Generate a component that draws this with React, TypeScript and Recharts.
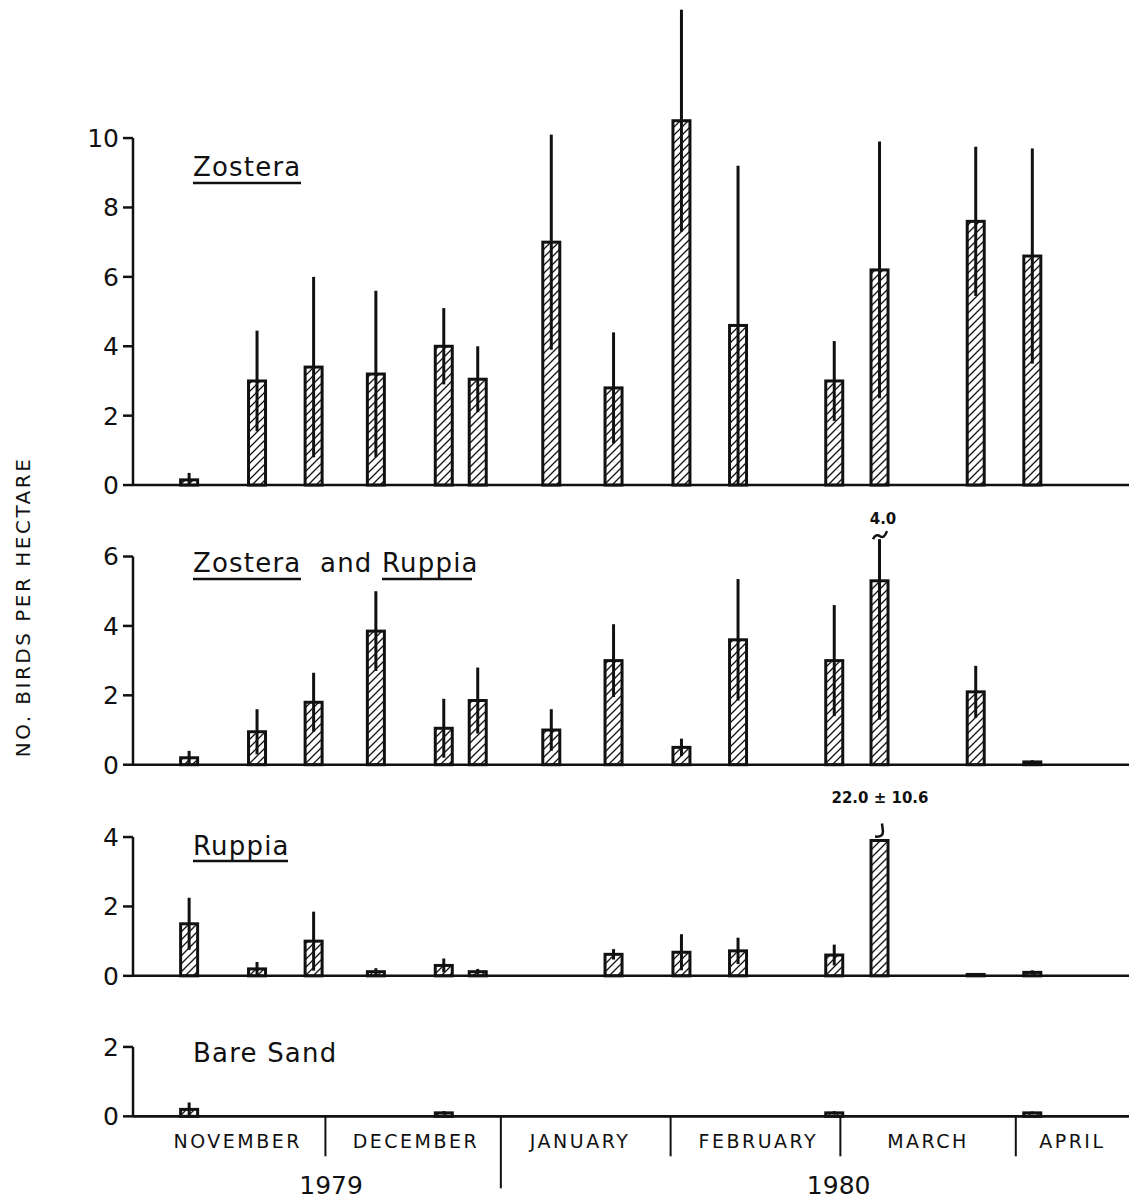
import React from 'react';
import { BarChart, Bar, XAxis, YAxis, ErrorBar, ReferenceLine, ReferenceDot } from 'recharts';

const FONT = '"DejaVu Sans", Verdana, sans-serif';
const INK = '#111';
const UNIT = 34.7; // px per bird/ha, same in every panel
const WIDTH = 1129;
const AXIS_W = 133;
const PAD = 16; // room above/below the plot so edge tick labels are not cut
const X_DOMAIN: [number, number] = [-4, 172];

// sampling dates, as days counted from 1 November 1979
const sampleDays = [6, 18, 28, 39, 51, 57, 70, 81, 93, 103, 120, 128, 145, 155];

const zosteraMean = [0.15, 3.0, 3.4, 3.2, 4.0, 3.05, 7.0, 2.8, 10.5, 4.6, 3.0, 6.2, 7.6, 6.6];
const zosteraSE = [0.2, 1.45, 2.6, 2.4, 1.1, 0.95, 3.1, 1.6, 3.2, 4.6, 1.15, 3.7, 2.15, 3.1];

const mixedMean = [0.2, 0.95, 1.8, 3.85, 1.05, 1.85, 1.0, 3.0, 0.5, 3.6, 3.0, 5.3, 2.1, 0.08];
const mixedSE = [0.2, 0.65, 0.85, 1.15, 0.85, 0.95, 0.6, 1.05, 0.25, 1.75, 1.6, 4.0, 0.75, 0.05];

const ruppiaMean = [1.5, 0.2, 1.0, 0.12, 0.3, 0.12, 0, 0.62, 0.68, 0.72, 0.6, 22.0, 0.04, 0.1];
const ruppiaSE = [0.75, 0.2, 0.85, 0.1, 0.2, 0.08, 0, 0.15, 0.52, 0.38, 0.3, 10.6, 0, 0.06];

const sandMean = [0.2, 0, 0, 0, 0.1, 0, 0, 0, 0, 0, 0.1, 0, 0, 0.1];
const sandSE = [0.2, 0, 0, 0, 0.05, 0, 0, 0, 0, 0, 0.05, 0, 0, 0.04];

const monthBoundaries = [30, 61, 91, 121, 152];
const monthNames = ['NOVEMBER', 'DECEMBER', 'JANUARY', 'FEBRUARY', 'MARCH', 'APRIL'];
const monthLabelDays = [14.5, 46, 75, 106.5, 136.5, 162];
const yearNames = ['1979', '1980'];
const yearLabelDays = [31, 120.7];
const yearBoundary = 61;

const BREAK_IDX = 11;

const HatchBar = (props: any) => {
  const { x, y, width, height } = props;
  if (!height || height <= 0.3) return null;
  return (
    <rect x={x} y={y} width={width} height={height} fill="url(#hatch)" stroke={INK} strokeWidth={3} />
  );
};

const MixedBreak = (props: any) => {
  const { cx, cy } = props;
  return (
    <g>
      <path d={`M${cx - 7},${cy} q3,-6 7,-3 t7,-5`} fill="none" stroke={INK} strokeWidth={2.5} />
      <text x={cx + 3} y={cy - 15} textAnchor="middle" fontFamily={FONT} fontSize={15} fontWeight="bold" fill={INK}>
        {mixedSE[BREAK_IDX].toFixed(1)}
      </text>
    </g>
  );
};

const RuppiaBreak = (props: any) => {
  const { cx, cy } = props;
  return (
    <g>
      <path
        d={`M${cx + 2},${cy - 17} L${cx + 3},${cy - 9} Q${cx + 3},${cy - 3} ${cx - 5},${cy - 4}`}
        fill="none"
        stroke={INK}
        strokeWidth={2.5}
      />
      <text x={cx} y={cy - 38} textAnchor="middle" fontFamily={FONT} fontSize={15} fontWeight="bold" fill={INK}>
        {`${ruppiaMean[BREAK_IDX].toFixed(1)} ± ${ruppiaSE[BREAK_IDX].toFixed(1)}`}
      </text>
    </g>
  );
};

const TimeTick = (props: any) => {
  const { x, y, payload } = props;
  const v = payload.value;
  if (monthBoundaries.includes(v)) {
    const len = v === yearBoundary ? 72 : 40;
    return <line x1={x} y1={y} x2={x} y2={y + len} stroke={INK} strokeWidth={2} />;
  }
  const m = monthLabelDays.indexOf(v);
  if (m >= 0) {
    return (
      <text x={x} y={y + 32} textAnchor="middle" fontFamily={FONT} fontSize={19} letterSpacing={2.5} fill={INK}>
        {monthNames[m]}
      </text>
    );
  }
  const yr = yearLabelDays.indexOf(v);
  if (yr >= 0) {
    return (
      <text x={x} y={y + 78} textAnchor="middle" fontFamily={FONT} fontSize={25} fill={INK}>
        {yearNames[yr]}
      </text>
    );
  }
  return null;
};

type PanelProps = {
  mean: number[];
  se: number[];
  yTicks: number[];
  yMax: number;
  baseline: number;
  barCap?: number;
  errCap?: number;
  bottomAxis?: boolean;
  children?: React.ReactNode;
};

function Panel({ mean, se, yTicks, yMax, baseline, barCap = Infinity, errCap = Infinity, bottomAxis = false, children }: PanelProps) {
  const plotH = yMax * UNIT;
  const axisH = bottomAxis ? 88 : 0;
  const bottomPad = bottomAxis ? 0 : PAD;
  const rows = sampleDays.map((day, i) => {
    const broken = mean[i] > barCap;
    const low = broken ? 0 : Math.min(se[i], mean[i]);
    const high = broken ? 0 : Math.max(0, Math.min(se[i], errCap - mean[i]));
    return { day, v: Math.min(mean[i], barCap), err: [low, high] };
  });
  const topTick = yTicks[yTicks.length - 1];

  return (
    <div style={{ position: 'absolute', left: 0, top: baseline - plotH - PAD }}>
      <BarChart
        width={WIDTH}
        height={plotH + PAD + bottomPad + axisH}
        data={rows}
        margin={{ top: PAD, right: 0, bottom: bottomPad, left: 0 }}
      >
        {bottomAxis ? (
          <XAxis
            type="number"
            dataKey="day"
            domain={X_DOMAIN}
            ticks={[...monthBoundaries, ...monthLabelDays, ...yearLabelDays]}
            interval={0}
            tickLine={false}
            tickSize={0}
            tickMargin={0}
            height={axisH}
            axisLine={{ stroke: INK, strokeWidth: 2.5 }}
            tick={TimeTick}
          />
        ) : (
          <XAxis type="number" dataKey="day" domain={X_DOMAIN} hide />
        )}
        <YAxis
          type="number"
          domain={[0, yMax]}
          ticks={yTicks}
          interval={0}
          width={AXIS_W}
          axisLine={false}
          tickSize={10}
          tickMargin={4}
          tickLine={{ stroke: INK, strokeWidth: 2.5 }}
          tick={{ fontSize: 25, fill: INK, fontFamily: FONT }}
        />
        <ReferenceLine y={0} stroke={INK} strokeWidth={2.5} />
        <ReferenceLine
          segment={[{ x: X_DOMAIN[0], y: 0 }, { x: X_DOMAIN[0], y: topTick }]}
          stroke={INK}
          strokeWidth={2.5}
          ifOverflow="visible"
        />
        <Bar dataKey="v" barSize={17} shape={HatchBar} isAnimationActive={false}>
          <ErrorBar dataKey="err" width={0} strokeWidth={3} stroke={INK} />
        </Bar>
        {children}
      </BarChart>
    </div>
  );
}

export default function App() {
  return (
    <div style={{ position: 'absolute', left: 0, top: 0, width: WIDTH, height: 1204, background: '#fff', overflow: 'hidden' }}>
      <svg width={0} height={0} style={{ position: 'absolute' }}>
        <defs>
          <pattern id="hatch" patternUnits="userSpaceOnUse" width={8} height={8}>
            <path d="M-2,2 l4,-4 M0,8 l8,-8 M6,10 l4,-4" stroke={INK} strokeWidth={1.3} />
          </pattern>
        </defs>
      </svg>

      <Panel mean={zosteraMean} se={zosteraSE} yTicks={[0, 2, 4, 6, 8, 10]} yMax={13.95} baseline={485} />

      <Panel mean={mixedMean} se={mixedSE} yTicks={[0, 2, 4, 6]} yMax={7.6} baseline={765} errCap={6.5}>
        <ReferenceDot x={sampleDays[BREAK_IDX]} y={6.5} r={0} shape={MixedBreak} />
      </Panel>

      <Panel mean={ruppiaMean} se={ruppiaSE} yTicks={[0, 2, 4]} yMax={5.5} baseline={975.5} barCap={3.9}>
        <ReferenceDot x={sampleDays[BREAK_IDX]} y={3.9} r={0} shape={RuppiaBreak} />
      </Panel>

      <Panel mean={sandMean} se={sandSE} yTicks={[0, 2]} yMax={2.2} baseline={1116} bottomAxis />

      <svg width={WIDTH} height={1204} style={{ position: 'absolute', left: 0, top: 0, pointerEvents: 'none' }}>
        <g fontFamily={FONT} fill={INK}>
          <text x={193} y={176} fontSize={26} letterSpacing={1.2}>Zostera</text>
          <line x1={193} y1={183} x2={301} y2={183} stroke={INK} strokeWidth={2.5} />

          <text x={193} y={572} fontSize={26} letterSpacing={1.2}>Zostera</text>
          <text x={320} y={572} fontSize={26} letterSpacing={1.2}>and</text>
          <text x={382} y={572} fontSize={26} letterSpacing={1.2}>Ruppia</text>
          <line x1={193} y1={579} x2={301} y2={579} stroke={INK} strokeWidth={2.5} />
          <line x1={382} y1={579} x2={472} y2={579} stroke={INK} strokeWidth={2.5} />

          <text x={193} y={855} fontSize={26} letterSpacing={1.2}>Ruppia</text>
          <line x1={193} y1={861} x2={288} y2={861} stroke={INK} strokeWidth={2.5} />

          <text x={193} y={1062} fontSize={26} letterSpacing={1.2}>Bare Sand</text>

          <text
            x={30}
            y={607}
            fontSize={20}
            letterSpacing={2.5}
            textAnchor="middle"
            transform="rotate(-90 30 607)"
          >
            NO. BIRDS PER HECTARE
          </text>
        </g>
      </svg>
    </div>
  );
}
